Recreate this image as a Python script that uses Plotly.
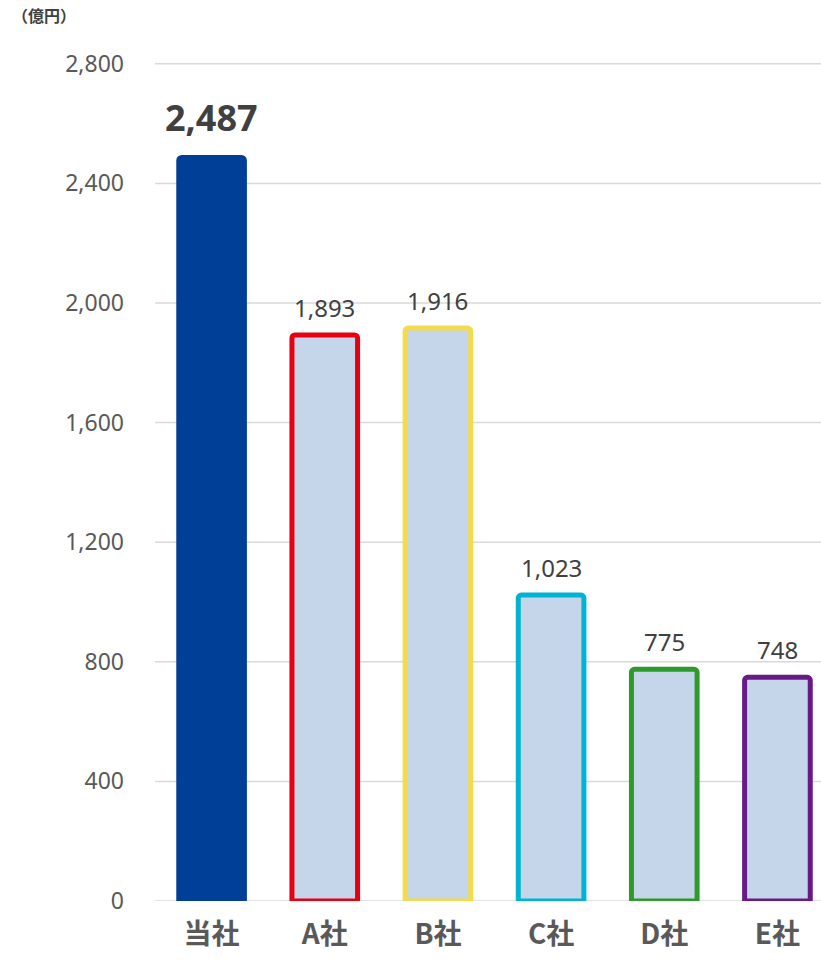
import plotly.graph_objects as go

categories = ["当社", "A社", "B社", "C社", "D社", "E社"]
values = [2487, 1893, 1916, 1023, 775, 748]
fill_colors = ["#003F98", "#C5D5EA", "#C5D5EA", "#C5D5EA", "#C5D5EA", "#C5D5EA"]
line_colors = ["#003F98", "#E60012", "#F3DC4C", "#00B3D3", "#2D9A2A", "#681A86"]
tick_vals = [0, 400, 800, 1200, 1600, 2000, 2400, 2800]
tick_text = ["0", "400", "800", "1,200", "1,600", "2,000", "2,400", "2,800"]

fig = go.Figure()
fig.add_trace(go.Bar(
    x=categories, y=values,
    marker=dict(color=fill_colors, line=dict(color=line_colors, width=5), cornerradius=3),
    width=0.58,
    hoverinfo="skip",
))

for tv in tick_vals:
    fig.add_shape(type="line", xref="paper", yref="y", x0=0, x1=1, y0=tv, y1=tv,
                  line=dict(color="#D9D9D9", width=1.5), layer="below")

for i, (c, v) in enumerate(zip(categories, values)):
    big = i == 0
    fig.add_annotation(
        x=c, y=v, text=(f"<b>{v:,}</b>" if big else f"{v:,}"),
        showarrow=False, yanchor="bottom", yshift=(13 if big else 9),
        font=dict(size=(36 if big else 24), color="#404040", family="Noto Sans, Noto Sans CJK JP"),
    )

fig.add_annotation(
    xref="paper", yref="paper", x=-0.218, y=1.056, xanchor="left", yanchor="middle",
    text="<b>（億円）</b>", showarrow=False,
    font=dict(size=16, color="#404040", family="Noto Sans CJK JP"),
)

fig.update_layout(
    width=821, height=963,
    margin=dict(l=155, r=0, t=62, b=62),
    plot_bgcolor="white", paper_bgcolor="white",
    showlegend=False,
    xaxis=dict(
        range=[-0.5, 5.385], showgrid=False, showline=False, ticks="",
        tickfont=dict(size=28, color="#595959", family="Noto Sans CJK JP"),
        ticklabelstandoff=14,
        tickprefix="<b>", ticksuffix="</b>",
    ),
    yaxis=dict(
        range=[0, 2806], tickvals=tick_vals, ticktext=tick_text,
        showgrid=False, zeroline=False,
        tickfont=dict(size=23, color="#595959", family="Noto Sans"),
        ticklabelstandoff=30,
    ),
)

fig.write_html("out.html")
